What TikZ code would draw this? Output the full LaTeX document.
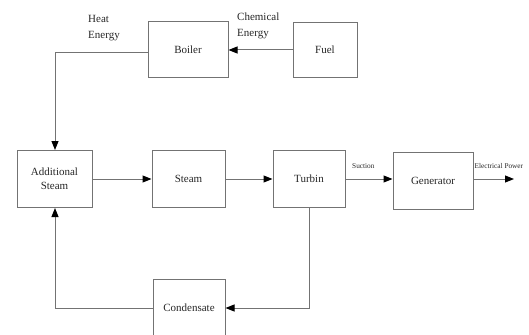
\documentclass[tikz,border=0pt]{standalone}
\usepackage{fontspec}
\setmainfont{Liberation Serif}
\usetikzlibrary{arrows.meta}
\begin{document}
\begin{tikzpicture}[x=1pt,y=-1pt,
  blk/.style={draw=black!55,line width=1pt,minimum width=#1,minimum height=57pt,inner sep=0pt,align=center,font=\fontsize{11}{14}\selectfont,text=black!85},
  conn/.style={draw=black!55,line width=1pt},
  arr/.style={conn,-{Triangle[length=9pt,width=7pt,color=black]}},
  lbl/.style={font=\fontsize{11}{16}\selectfont,align=left,text=black!85,inner sep=0pt},
  small/.style={font=\fontsize{7.3}{8}\selectfont,text=black!85,inner sep=0pt}]
\useasboundingbox (0,0) rectangle (529,334);
\node[blk=80pt,minimum height=56pt] (boiler) at (188,50) {Boiler};
\node[blk=64pt,minimum height=55pt] (fuel) at (325,50) {Fuel};
\node[blk=75pt] (add) at (54.5,179) {Additional\\Steam};
\node[blk=73pt] (steam) at (188.5,179) {Steam};
\node[blk=72pt] (turb) at (309,179) {Turbin};
\node[blk=80pt] (gen) at (433,180.5) {Generator};
\node[blk=72pt,minimum height=58pt] (cond) at (189,308) {Condensate};
\coordinate (out) at (514,179);
\node[lbl,anchor=north west] (heat) at (88,15) {Heat\\Energy};
\node[lbl,anchor=north west] (chem) at (237,13) {Chemical\\Energy};
\node[small,anchor=south west] (suc) at (352,169) {Suction};
\node[small,anchor=south west] (elec) at (474.5,169) {Electrical Power};
\draw[arr] (fuel.west) -- (boiler.east);
\draw[arr] (boiler.west |- 0,53) -- (55,53) -- (55,0 |- add.north);
\draw[arr] (add.east) -- (steam.west);
\draw[arr] (steam.east) -- (turb.west);
\draw[arr] (turb.east) -- (gen.west |- turb.east);
\draw[arr] (gen.east |- out) -- (out);
\draw[arr] (turb.south) -- (turb.south |- cond.east) -- (cond.east);
\draw[arr] (cond.west) -- (55,0 |- cond.west) -- (55,0 |- add.south);
\end{tikzpicture}
\end{document}
